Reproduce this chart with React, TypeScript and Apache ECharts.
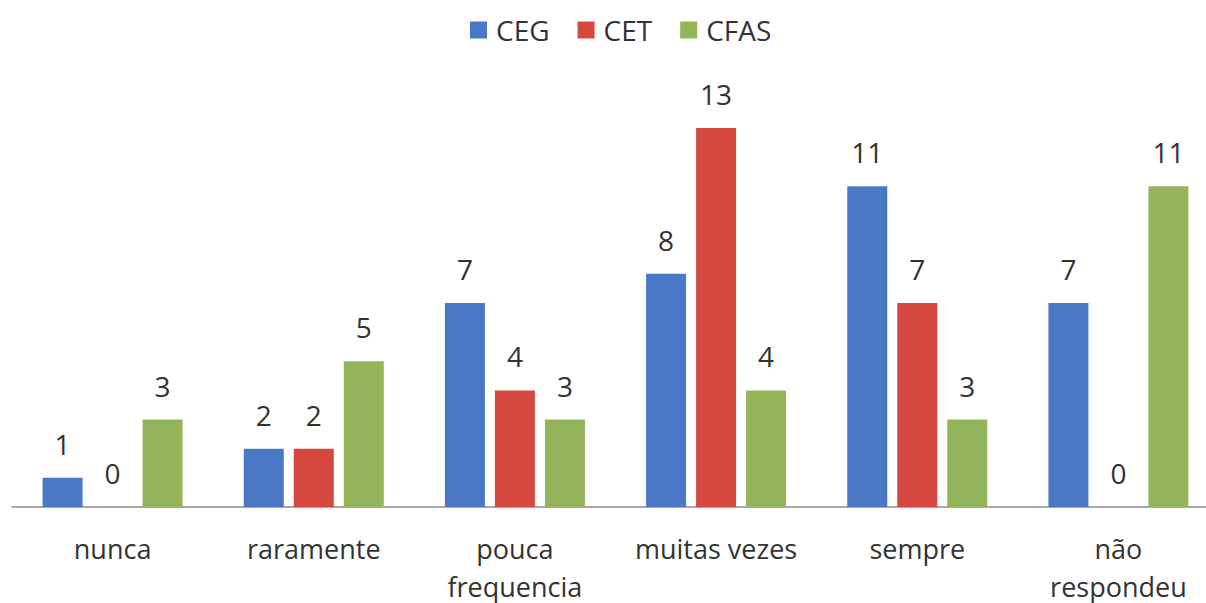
import React, { useEffect, useRef } from "react";
import * as echarts from "echarts";

const categories = ["nunca", "raramente", "pouca\nfrequencia", "muitas vezes", "sempre", "não\nrespondeu"];
const seriesNames = ["CEG", "CET", "CFAS"];
const ceg = [1, 2, 7, 8, 11, 7];
const cet = [0, 2, 4, 13, 7, 0];
const cfas = [3, 5, 3, 4, 3, 11];
const colors = ["#4A78C6", "#D5473F", "#94B45A"];

export default function App() {
  const ref = useRef<HTMLDivElement>(null);
  useEffect(() => {
    if (!ref.current) return;
    const chart = echarts.init(ref.current, undefined, { renderer: "svg" });
    const font = "'Open Sans', 'Noto Sans', sans-serif";
    const data = [ceg, cet, cfas];
    chart.setOption({
      animation: false,
      backgroundColor: "#ffffff",
      textStyle: { fontFamily: font },
      legend: {
        top: 11,
        left: 465,
        itemWidth: 17,
        itemHeight: 17,
        itemGap: 28,
        icon: "rect",
        textStyle: { fontSize: 28, color: "#333333", fontFamily: font, padding: [0, 0, 0, 4] },
        data: seriesNames,
      },
      grid: {
        left: 12,
        width: 1207,
        top: 128,
        bottom: 96,
        containLabel: false,
        outerBoundsMode: "none",
      },
      xAxis: {
        type: "category",
        data: categories,
        axisLine: { show: true, lineStyle: { color: "#8c8c8c", width: 1.5 } },
        axisTick: { show: false },
        axisLabel: {
          fontSize: 27,
          color: "#333333",
          fontFamily: font,
          margin: 22,
          lineHeight: 38,
          interval: 0,
        },
      },
      yAxis: {
        type: "value",
        min: 0,
        max: 13,
        show: false,
        splitLine: { show: false },
      },
      series: seriesNames.map((name, i) => ({
        name,
        type: "bar",
        data: data[i],
        barWidth: 40,
        barGap: "25%",
        itemStyle: { color: colors[i] },
        label: {
          show: true,
          position: "top",
          distance: 20,
          fontSize: 28,
          color: "#333333",
          fontFamily: font,
        },
      })),
    });
    return () => chart.dispose();
  }, []);
  return (
    <div
      ref={ref}
      style={{ position: "fixed", left: 0, top: 0, width: 1206, height: 603 }}
    />
  );
}
